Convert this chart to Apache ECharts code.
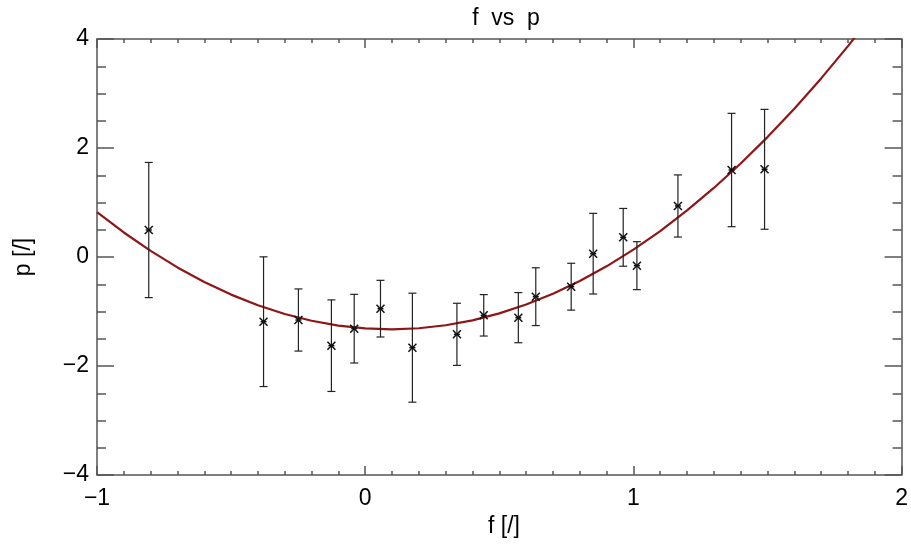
<!doctype html>
<html>
<head>
<meta charset="utf-8">
<title>f vs p</title>
<script src="https://cdn.jsdelivr.net/npm/echarts@6/dist/echarts.min.js"></script>
<style type="text/css">
    html, body { margin: 0; padding: 0; background: #fff; }
    #main { width: 911px; height: 545px; }
</style>
</head>
<body>
<div id="main"></div>
<script type="text/javascript">
// measured points (f, p) with symmetric error
var ptF   = [-0.807, -0.379, -0.249, -0.126, -0.041, 0.057, 0.176, 0.342, 0.442, 0.571, 0.636, 0.768, 0.850, 0.962, 1.013, 1.166, 1.366, 1.489];
var ptP   = [0.495, -1.187, -1.156, -1.627, -1.315, -0.948, -1.664, -1.419, -1.070, -1.113, -0.728, -0.545, 0.061, 0.361, -0.159, 0.936, 1.596, 1.609];
var ptErr = [1.24, 1.19, 0.57, 0.84, 0.63, 0.52, 1.00, 0.57, 0.38, 0.46, 0.53, 0.43, 0.74, 0.53, 0.44, 0.57, 1.04, 1.10];

// fitted curve, every 0.1
var fitF = [-1.0, -0.9, -0.8, -0.7, -0.6, -0.5, -0.4, -0.3, -0.2, -0.1, 0.0, 0.1, 0.2, 0.3, 0.4, 0.5,
            0.6, 0.7, 0.8, 0.9, 1.0, 1.1, 1.2, 1.3, 1.4, 1.5, 1.6, 1.7, 1.8, 1.9];
var fitP = [0.825, 0.450, 0.112, -0.191, -0.459, -0.690, -0.886, -1.045, -1.169, -1.258, -1.310, -1.327, -1.307, -1.252, -1.162, -1.035,
            -0.873, -0.674, -0.440, -0.171, 0.135, 0.476, 0.854, 1.267, 1.715, 2.200, 2.720, 3.277, 3.869, 4.496];

var xTicks = [-1, 0, 1, 2];
var yTicks = [-4, -2, 0, 2, 4];

var FONT = '"Liberation Sans", Arial, sans-serif';
var AXC = '#555';

function minus(v) { return String(v).replace('-', '\u2212'); }

var errData = ptF.map(function (f, i) {
    return [f, ptP[i], ptP[i] - ptErr[i], ptP[i] + ptErr[i]];
});
var fitData = fitF.map(function (f, i) { return [f, fitP[i]]; });

function renderErr(params, api) {
    var c  = api.coord([api.value(0), api.value(1)]);
    var lo = api.coord([api.value(0), api.value(2)]);
    var hi = api.coord([api.value(0), api.value(3)]);
    var st = { stroke: '#222', lineWidth: 1.2 };
    var mk = { stroke: '#111', lineWidth: 1.5 };
    var cap = 4, s = 4;
    return {
        type: 'group',
        children: [
            { type: 'line', shape: { x1: hi[0], y1: hi[1], x2: lo[0], y2: lo[1] }, style: st },
            { type: 'line', shape: { x1: hi[0] - cap, y1: hi[1], x2: hi[0] + cap, y2: hi[1] }, style: st },
            { type: 'line', shape: { x1: lo[0] - cap, y1: lo[1], x2: lo[0] + cap, y2: lo[1] }, style: st },
            { type: 'line', shape: { x1: c[0] - s, y1: c[1] - s, x2: c[0] + s, y2: c[1] + s }, style: mk },
            { type: 'line', shape: { x1: c[0] - s, y1: c[1] + s, x2: c[0] + s, y2: c[1] - s }, style: mk },
            { type: 'line', shape: { x1: c[0] - 3, y1: c[1], x2: c[0] + 3, y2: c[1] }, style: mk }
        ]
    };
}

function xAx(pos, showLabel) {
    return {
        type: 'value', position: pos, min: xTicks[0], max: xTicks[xTicks.length - 1], interval: 1,
        axisLine: { show: true, onZero: false, lineStyle: { color: AXC, width: 1.5 } },
        axisTick: { show: true, inside: true, length: 9, lineStyle: { color: AXC, width: 1.5 } },
        minorTick: { show: true, splitNumber: 10, length: 4, lineStyle: { color: AXC, width: 1.5 } },
        splitLine: { show: false },
        axisLabel: { show: showLabel, margin: 12, color: '#000', fontSize: 23, fontFamily: FONT, formatter: minus }
    };
}
function yAx(pos, showLabel) {
    return {
        type: 'value', position: pos, min: yTicks[0], max: yTicks[yTicks.length - 1], interval: 2,
        axisLine: { show: true, onZero: false, lineStyle: { color: AXC, width: 1.5 } },
        axisTick: { show: true, inside: true, length: 17, lineStyle: { color: AXC, width: 1.5 } },
        minorTick: { show: true, splitNumber: 4, length: 9, lineStyle: { color: AXC, width: 1.5 } },
        splitLine: { show: false },
        axisLabel: { show: showLabel, margin: 8, color: '#000', fontSize: 23, fontFamily: FONT, formatter: minus }
    };
}

var myChart = echarts.init(document.getElementById('main'));
var option = {
    animation: false,
    backgroundColor: '#fff',
    title: [
        { text: 'f  vs  p', left: 501, top: 2, textAlign: 'center',
          textStyle: { color: '#000', fontSize: 23, fontWeight: 'normal', fontFamily: FONT } },
        { text: 'f [/]', left: 499, top: 510, textAlign: 'center',
          textStyle: { color: '#000', fontSize: 23, fontWeight: 'normal', fontFamily: FONT } }
    ],
    grid: { left: 97, top: 39, width: 808, height: 436, containLabel: false },
    xAxis: [xAx('bottom', true), xAx('top', false)],
    yAxis: [
        Object.assign(yAx('left', true), { name: 'p [/]', nameLocation: 'middle', nameGap: 62, nameRotate: 90,
            nameTextStyle: { color: '#000', fontSize: 23, fontFamily: FONT } }),
        yAx('right', false)
    ],
    series: [
        {
            type: 'line', data: fitData, smooth: false, showSymbol: false, clip: true,
            lineStyle: { color: '#8e1616', width: 2.2 }, z: 2
        },
        {
            type: 'custom', data: errData, renderItem: renderErr, clip: true, z: 3
        }
    ]
};
myChart.setOption(option);
</script>
</body>
</html>
